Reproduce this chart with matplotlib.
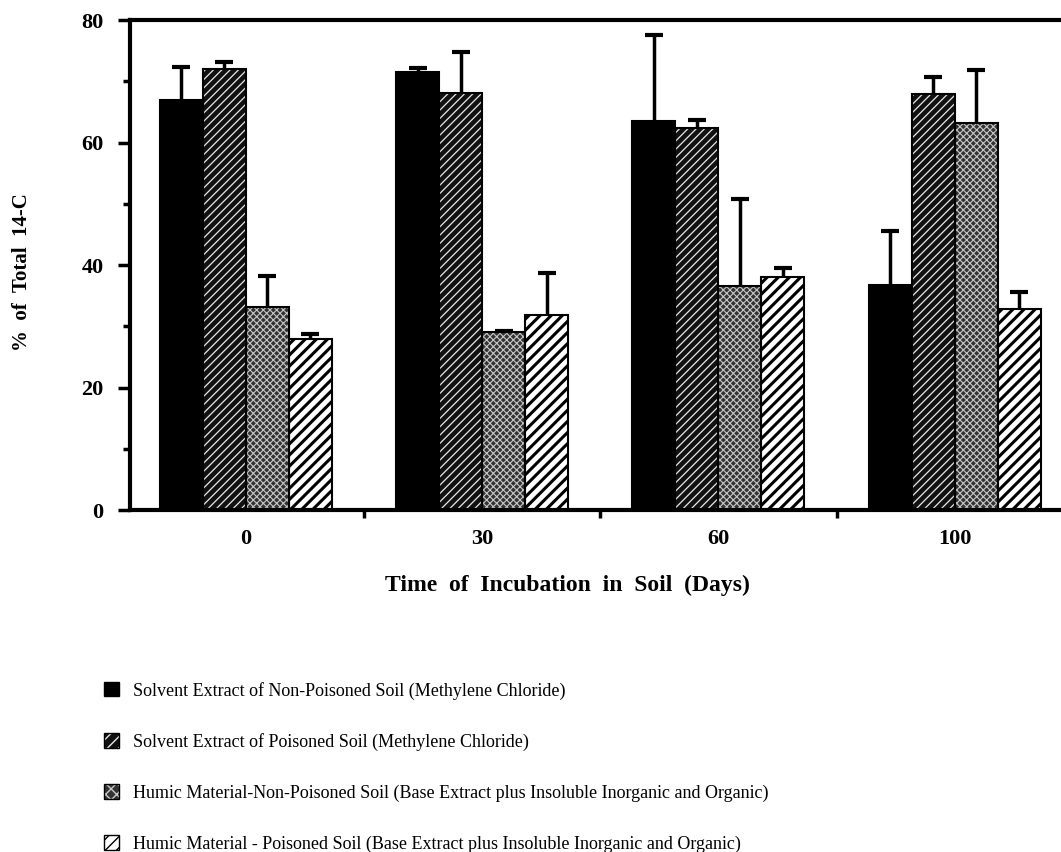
import matplotlib
matplotlib.use("Agg")
import matplotlib.pyplot as plt
import matplotlib.patches as mpatches
import numpy as np

days = ["0", "30", "60", "100"]
series = [
    "Solvent Extract of Non-Poisoned Soil (Methylene Chloride)",
    "Solvent Extract of Poisoned Soil (Methylene Chloride)",
    "Humic Material-Non-Poisoned Soil (Base Extract plus Insoluble Inorganic and Organic)",
    "Humic Material - Poisoned Soil (Base Extract plus Insoluble Inorganic and Organic)",
]
nonpoisoned_solvent = [66.9, 71.5, 63.5, 36.7]
poisoned_solvent = [72.0, 68.1, 62.4, 67.9]
humic_nonpoisoned = [33.1, 29.1, 36.6, 63.2]
humic_poisoned = [27.9, 31.8, 38.0, 32.8]
err_nonpoisoned_solvent = [5.4, 0.7, 14.1, 8.9]
err_poisoned_solvent = [1.1, 6.7, 1.3, 2.8]
err_humic_nonpoisoned = [5.1, 0.2, 14.2, 8.6]
err_humic_poisoned = [0.8, 6.9, 1.5, 2.8]

values = [nonpoisoned_solvent, poisoned_solvent, humic_nonpoisoned, humic_poisoned]
errors = [err_nonpoisoned_solvent, err_poisoned_solvent, err_humic_nonpoisoned, err_humic_poisoned]

# (facecolor, hatch, hatch colour, hatch linewidth)
styles = [
    ("black", None, "black", 1.0),
    ("#111111", "////", "#e8e8e8", 0.9),
    ("#333333", "xxxxx", "#c8c8c8", 0.8),
    ("white", "///", "black", 2.2),
]

plt.rcParams["font.family"] = ["Liberation Serif", "DejaVu Serif"]

fig = plt.figure(figsize=(10.61, 8.52), dpi=100)
ax = fig.add_axes([0.1225, 0.4014, 0.8775, 0.5751])

x = np.arange(len(days))
w = 0.182


def make_bars(pos, vals, fc, hatch, hc, hlw):
    with plt.rc_context({"hatch.linewidth": hlw}):
        bars = ax.bar(pos, vals, width=w, facecolor=fc, edgecolor=hc,
                      linewidth=0, hatch=hatch, zorder=2)
        for b in bars:
            if hasattr(b, "set_hatch_linewidth"):
                b.set_hatch_linewidth(hlw)
    ax.bar(pos, vals, width=w, fill=False, edgecolor="black", linewidth=1.5, zorder=2.5)


for i, (vals, errs, st) in enumerate(zip(values, errors, styles)):
    pos = x + (i - 1.5) * w
    make_bars(pos, vals, *st)
    eb = ax.errorbar(pos, vals, yerr=[np.zeros(len(errs)), errs], fmt="none",
                     ecolor="black", elinewidth=2.5, capsize=6.5, capthick=3, zorder=3)
    caplines = eb[1]
    if len(caplines) >= 2:
        caplines[0].set_visible(False)

ax.set_xlim(-0.49, 3.45)
ax.set_ylim(0, 80)
ax.set_yticks([0, 20, 40, 60, 80])
ax.set_yticks([10, 30, 50, 70], minor=True)
ax.set_xticks(x)
ax.set_xticklabels(days, fontsize=16, fontweight="bold")
ax.set_xticks([0.5, 1.5, 2.5], minor=True)
ax.tick_params(axis="x", which="major", length=0, pad=14)
ax.tick_params(axis="x", which="minor", length=6, width=2.5, direction="out")
ax.tick_params(axis="y", which="major", length=9, width=2.5, direction="out", labelsize=16, pad=10)
ax.tick_params(axis="y", which="minor", length=5, width=2.5, direction="out")
for lab in ax.get_yticklabels():
    lab.set_fontweight("bold")
for side in ["left", "bottom", "top"]:
    ax.spines[side].set_linewidth(3)
ax.spines["right"].set_visible(False)

ax.set_ylabel("%  of  Total  14-C", fontsize=15, fontweight="bold")
ax.yaxis.set_label_coords(-0.105, 0.485)
ax.set_xlabel("Time  of  Incubation  in  Soil  (Days)", fontsize=17, fontweight="bold")
ax.xaxis.set_label_coords(0.470, -0.133)

handles = []
for fc, hatch, hc, hlw in styles:
    p = mpatches.Patch(facecolor=fc, edgecolor="black", linewidth=1.0)
    if hatch:
        p.set_hatch(hatch[:3])
        p._hatch_color = matplotlib.colors.to_rgba(hc)
    handles.append(p)
leg = fig.legend(handles, series, loc="upper left", bbox_to_anchor=(0.091, 0.2085),
                 frameon=False, fontsize=13, handlelength=0.85, handleheight=0.85,
                 labelspacing=1.85, handletextpad=0.75, borderaxespad=0)

fig.savefig("out.png", dpi=100)
